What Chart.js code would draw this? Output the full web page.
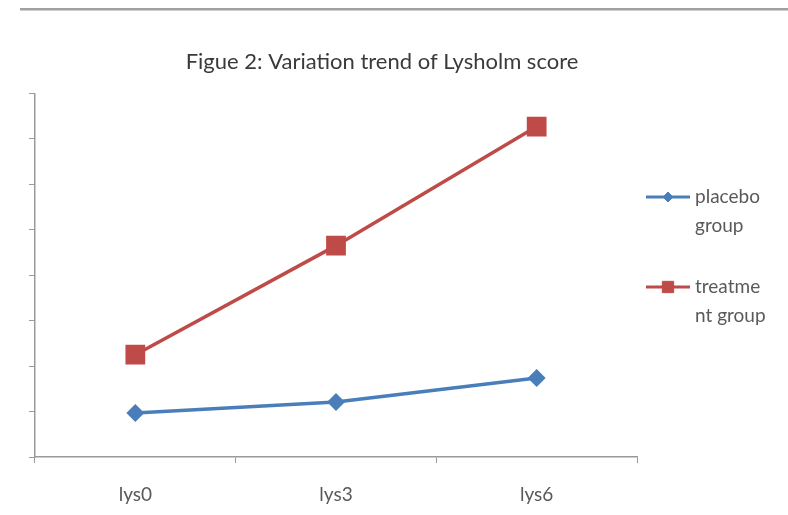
<!DOCTYPE html>
<html>
<head>
<meta charset="utf-8">
<script src="https://cdn.jsdelivr.net/npm/chart.js@4/dist/chart.umd.min.js"></script>
<style>
  html, body { margin: 0; padding: 0; background: #ffffff; }
  #wrap { width: 788px; height: 515px; position: relative; }
</style>
</head>
<body>
<div id="wrap"><canvas id="c"></canvas></div>
<script>
const titleText = 'Figue 2: Variation trend of Lysholm score';
const categories = ['lys0', 'lys3', 'lys6'];
const seriesNames = ['placebo group', 'treatment group'];
const legendLines = [['placebo', 'group'], ['treatme', 'nt group']];
const placeboValues = [9.7, 12.1, 17.4];
const treatmentValues = [22.5, 46.5, 72.7];
const yMin = 0, yMax = 80, yStep = 10;

const BLUE = '#4A7EBB';
const RED = '#BE4B48';
const AXIS = '#9a9a9a';
const TEXT = '#595959';
const FONT = 'Lato, "Open Sans", sans-serif';

const decorations = {
  id: 'decorations',
  afterDraw(chart) {
    const ctx = chart.ctx;
    const ca = chart.chartArea;
    ctx.save();
    // top rule
    ctx.fillStyle = '#a0a0a0';
    ctx.fillRect(20, 8, 768, 2.5);
    // legend
    const ds = chart.data.datasets;
    const baseY = [197, 287];
    ds.forEach((d, i) => {
      const y = baseY[i];
      const x0 = ca.right + 9, x1 = ca.right + 53;
      ctx.strokeStyle = d.borderColor;
      ctx.lineWidth = 3;
      ctx.beginPath(); ctx.moveTo(x0, y); ctx.lineTo(x1, y); ctx.stroke();
      ctx.fillStyle = d.pointBackgroundColor;
      ctx.strokeStyle = d.pointBorderColor;
      ctx.lineWidth = 1;
      Chart.helpers.drawPoint(ctx, {pointStyle: d.pointStyle, radius: i === 0 ? 5 : 8, borderWidth: 1}, (x0 + x1) / 2, y);
      ctx.fillStyle = TEXT;
      ctx.font = '19px ' + FONT;
      ctx.textBaseline = 'middle';
      ctx.textAlign = 'left';
      legendLines[i].forEach((t, j) => ctx.fillText(t, ca.right + 58, y + j * 29));
    });
    ctx.restore();
  }
};

new Chart(document.getElementById('c'), {
  type: 'line',
  data: {
    labels: categories,
    datasets: [
      {
        label: seriesNames[0],
        data: placeboValues,
        borderColor: BLUE,
        backgroundColor: BLUE,
        pointBackgroundColor: BLUE,
        pointBorderColor: BLUE,
        borderWidth: 3.5,
        pointStyle: 'rectRot',
        pointRadius: 6.5,
        pointHoverRadius: 6.5,
        tension: 0
      },
      {
        label: seriesNames[1],
        data: treatmentValues,
        borderColor: RED,
        backgroundColor: RED,
        pointBackgroundColor: RED,
        pointBorderColor: RED,
        borderWidth: 3.5,
        pointStyle: 'rect',
        pointRadius: 11.5,
        pointHoverRadius: 11.5,
        tension: 0
      }
    ]
  },
  options: {
    responsive: true,
    maintainAspectRatio: false,
    animation: false,
    layout: { padding: { left: 0, right: 24, top: 0, bottom: 0 } },
    plugins: {
      legend: { display: false },
      tooltip: { enabled: false },
      title: {
        display: true,
        text: titleText,
        color: '#3a3a3a',
        font: { family: FONT, size: 22, weight: 'normal' },
        padding: { top: 49, bottom: 18 }
      }
    },
    scales: {
      x: {
        offset: true,
        grid: { display: true, drawOnChartArea: false, drawTicks: true, tickLength: 6, color: AXIS, offset: true },
        border: { display: true, color: AXIS, width: 1.5 },
        ticks: { color: TEXT, font: { family: FONT, size: 19 }, padding: 20 },
        afterFit(s) { s.height = 58; }
      },
      y: {
        min: yMin, max: yMax,
        ticks: { display: false, stepSize: yStep },
        grid: { display: true, drawOnChartArea: false, drawTicks: true, tickLength: 6, color: AXIS },
        border: { display: true, color: AXIS, width: 1.5 },
        afterFit(s) { s.width = 35; }
      },
      legendSpace: {
        type: 'linear',
        position: 'right',
        display: true,
        grid: { display: false },
        border: { display: false },
        ticks: { display: false },
        afterFit(s) { s.width = 127; }
      }
    }
  },
  plugins: [decorations]
});
</script>
</body>
</html>
